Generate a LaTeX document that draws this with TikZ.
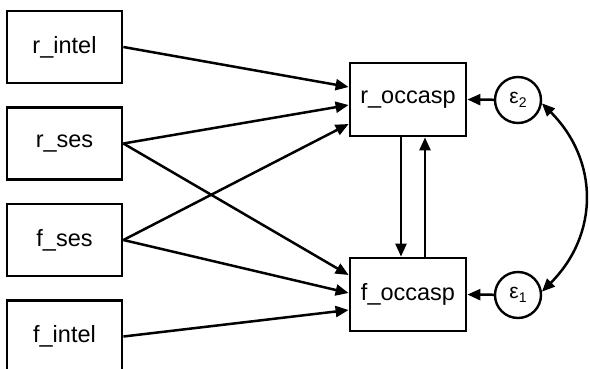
\documentclass[tikz,border=0pt]{standalone}
\usepackage{fontspec}
\setmainfont{Liberation Sans}
\usetikzlibrary{arrows.meta,calc}
\begin{document}
\begin{tikzpicture}[x=1pt,y=-1pt,
  box/.style={draw,line width=2.8pt,minimum width=115pt,minimum height=72pt,inner sep=0pt,font=\fontsize{23.5}{23.5}\selectfont},
  err/.style={draw,circle,line width=2.4pt,minimum size=46pt,inner sep=0pt,font=\fontsize{21}{21}\selectfont},
  path/.style={line width=2.5pt,-{Triangle[length=13pt,width=11pt]}},
  cov/.style={line width=2.5pt,{Triangle[length=13pt,width=11pt]}-{Triangle[length=13pt,width=11pt]}}]
\useasboundingbox (0,0) rectangle (590,368);
\node[box] (ri) at (64.5,47) {r\_intel};
\node[box] (rs) at (64.5,143.5) {r\_ses};
\node[box] (fs) at (64.5,240) {f\_ses};
\node[box] (fi) at (64.5,336.5) {f\_intel};
\node[box,minimum width=116pt,minimum height=73pt] (ro) at (408,99.5) {r\_occasp};
\node[box,minimum width=116pt,minimum height=73pt] (fo) at (408,294.5) {f\_occasp};
\node[err] (e2) at (518,100) {ε\raisebox{-0.3ex}{\fontsize{14}{14}\selectfont 2}};
\node[err] (e1) at (518,295) {ε\raisebox{-0.3ex}{\fontsize{14}{14}\selectfont 1}};
\draw[path] (ri.east) -- ($(ro.west)+(0,-12.5)$);
\draw[path] (rs.east) -- ($(ro.west)+(0,5.5)$);
\draw[path] (fs.east) -- ($(ro.west)+(0,24.5)$);
\draw[path] (rs.east) -- ($(fo.west)+(0,-19.5)$);
\draw[path] (fs.east) -- ($(fo.west)+(0,-1.5)$);
\draw[path] (fi.east) -- ($(fo.west)+(0,15.5)$);
\draw[path] ($(ro.south)+(-7,0)$) -- ($(fo.north)+(-7,0)$);
\draw[path] ($(fo.north)+(17,0)$) -- ($(ro.south)+(17,0)$);
\draw[path] (e2) -- (ro.east);
\draw[path] (e1) -- (fo.east);
\draw[cov] (e2.-8) to[out=-45,in=45,looseness=1.1] (e1.8);
\end{tikzpicture}
\end{document}
